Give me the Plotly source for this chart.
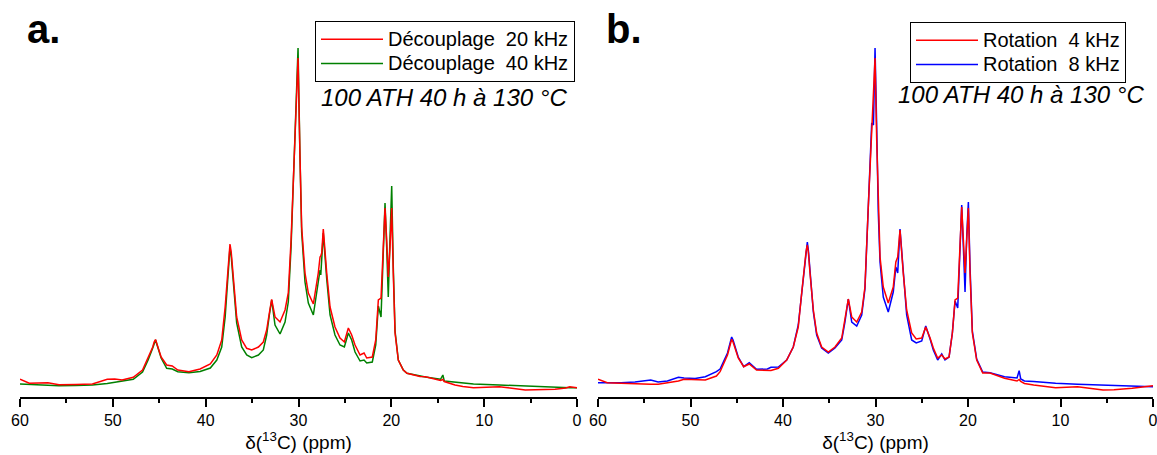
import plotly.graph_objects as go

# ---------------- data (intensity in arbitrary units, ppm on x) ----------------
PPM_A = [60.0, 59.0, 57.0, 55.8, 54.0, 52.2, 50.6, 49.8, 49.0, 47.8, 46.8, 46.2, 45.7, 45.55,
         45.4, 45.25, 44.8, 44.2, 43.6, 43.0, 41.8, 40.6, 39.5, 38.8, 38.27, 37.9, 37.63, 37.5,
         37.38, 37.25, 37.02,
         36.66, 36.12, 35.58, 35.04, 34.32, 33.79, 33.43, 33.14, 32.89, 32.53, 31.99, 31.45,
         31.1, 30.8, 30.55, 30.3, 30.05, 29.84, 29.66, 29.3, 28.94, 28.4, 27.87, 27.68, 27.6,
         27.5, 27.33, 26.96, 26.6, 26.07, 25.53, 25.06, 24.63, 24.27, 23.91, 23.37, 22.94,
         22.65, 22.05, 21.68, 21.4, 21.11, 20.86, 20.68, 20.5, 20.33, 20.14, 19.96, 19.79,
         19.6, 19.25, 18.71, 18.31, 17.99, 16.91, 16.33, 14.7, 14.45, 14.3, 13.14, 12.3,
         11.15, 8.36, 5.57, 4.37, 2.37, 1.2, 0.78, 0.0]
DEC_20 = [17.7, 13.7, 14.3, 12.3, 12.5, 13.0, 17.7, 18.0, 17.0, 19.7, 27.0, 38.7, 50.0, 55.0,
          57.5, 53.0, 40.0, 32.0, 31.0, 27.0, 25.3, 28.0, 33.0, 42.0, 57.0, 90.0, 124.0, 146.0,
          153.0, 145.0, 117.0,
          80.0, 57.0, 48.7, 47.0, 50.0, 55.0, 67.0, 84.0, 97.7, 80.0, 75.0, 87.0,
          104.0, 157.0, 224.0, 290.0, 339.0, 240.0, 170.0, 124.0, 104.0, 93.0, 124.0, 140.0, 141.0,
          144.0, 168.0, 124.0, 90.0, 70.0, 59.0, 55.0, 69.0, 62.0, 52.0, 42.0, 44.0,
          39.0, 40.0, 57.0, 97.0, 99.0, 157.0, 189.0, 157.0, 120.0, 150.0, 189.0, 124.0,
          64.0, 37.0, 27.0, 23.7, 23.0, 20.5, 20.3, 16.5, 17.5, 15.5, 12.0, 10.5,
          9.3, 10.3, 7.0, 7.2, 7.7, 9.0, 10.3, 9.3]
DEC_40 = [13.0, 12.5, 11.5, 11.3, 11.5, 12.0, 13.5, 14.5, 15.5, 17.7, 25.0, 37.0, 49.0, 54.5,
          57.0, 52.5, 39.0, 28.7, 28.0, 25.3, 24.3, 25.5, 29.0, 37.0, 50.0, 80.0, 118.0, 142.0,
          150.0, 141.0, 112.0,
          74.0, 50.0, 42.0, 39.3, 42.0, 47.0, 62.0, 82.0, 97.0, 72.0, 63.0, 75.0,
          95.0, 150.0, 222.0, 295.0, 349.0, 240.0, 165.0, 115.0, 94.0, 82.0, 115.0, 127.0, 122.0,
          140.0, 164.0, 118.0, 82.0, 62.0, 52.0, 50.0, 64.0, 57.0, 45.0, 36.0, 37.0,
          34.0, 35.0, 52.0, 91.0, 80.0, 150.0, 194.0, 150.0, 100.0, 160.0, 211.0, 130.0,
          66.0, 37.0, 27.0, 23.7, 23.0, 21.0, 20.0, 17.7, 22.0, 16.0, 15.0, 13.7,
          13.0, 12.0, 10.8, 10.3, 9.8, 9.5, 9.3, 9.3]

PPM_B = [60.0, 59.0, 57.5, 56.0, 54.3, 53.5, 52.5, 51.3, 50.7, 49.5, 48.4, 47.2, 46.8, 46.0,
         45.7, 45.55, 45.4, 44.84, 44.25, 43.65, 42.86, 41.69, 41.3, 40.5, 39.6, 38.89, 38.35,
         37.98, 37.7, 37.5, 37.37, 37.25, 37.08, 36.72, 36.36, 35.82, 35.1, 34.38, 33.65, 33.3,
         32.94, 32.57, 32.03,
         31.49, 31.14, 30.78, 30.41, 30.22, 30.05, 29.87, 29.7, 29.51, 29.16, 28.62, 28.08,
         27.8, 27.6, 27.35, 27.0, 26.63, 26.09, 25.6, 25.0, 24.57, 24.1, 23.75, 23.28, 22.84,
         22.49, 22.05, 21.69, 21.4, 21.11, 20.86, 20.68, 20.5, 20.32, 20.14, 19.96, 19.78,
         19.53, 19.06, 18.52, 18.41, 17.62, 16.54, 16.05, 14.7, 14.47, 14.3, 13.9, 12.9,
         10.53, 8.16, 5.4, 4.22, 2.25, 0.0]
ROT_4 = [17.7, 14.3, 13.7, 13.0, 12.7, 12.7, 14.0, 16.0, 17.7, 17.0, 17.0, 21.0, 25.3, 42.0,
         53.0, 57.7, 55.0, 39.0, 30.3, 33.0, 27.0, 26.3, 26.5, 28.7, 37.0, 50.0, 70.0,
         104.0, 130.0, 146.0, 152.0, 144.0, 124.0, 87.0, 64.0, 50.0, 45.0, 50.0, 59.0, 77.0,
         98.0, 80.0, 75.0,
         85.0, 110.0, 190.0, 274.0, 305.0, 339.0, 257.0, 198.0, 140.0, 110.0, 94.0, 110.0,
         135.0, 140.0, 167.0, 124.0, 87.0, 64.0, 58.0, 59.0, 70.0, 59.0, 49.0, 39.0, 42.0,
         38.0, 40.0, 64.0, 97.0, 99.0, 157.0, 190.0, 157.0, 124.0, 157.0, 189.0, 124.0,
         64.0, 37.0, 27.0, 24.0, 24.0, 20.0, 18.7, 16.0, 17.5, 15.5, 13.5, 12.0,
         9.3, 10.3, 7.0, 7.2, 8.7, 11.3]
ROT_8 = [14.3, 14.0, 14.3, 15.0, 17.0, 15.0, 16.0, 19.7, 19.0, 18.5, 20.3, 25.3, 28.0, 44.0,
         55.0, 60.0, 57.0, 40.0, 30.3, 34.3, 27.7, 28.0, 29.7, 30.0, 37.0, 50.0, 72.0,
         104.0, 132.0, 148.0, 155.0, 146.0, 124.0, 85.0, 62.0, 49.0, 44.0, 49.0, 57.0, 75.0,
         98.0, 75.0, 71.0,
         82.0, 108.0, 188.0, 274.0, 272.0, 349.0, 270.0, 185.0, 135.0, 100.0, 85.0, 105.0,
         130.0, 124.0, 168.0, 122.0, 82.0, 57.0, 54.0, 56.0, 71.0, 58.0, 47.0, 37.0, 43.0,
         37.0, 40.0, 64.0, 96.0, 89.0, 160.0, 192.0, 150.0, 105.0, 160.0, 195.0, 130.0,
         66.0, 38.0, 28.0, 25.0, 24.3, 22.0, 20.3, 19.0, 26.3, 18.0, 16.0, 15.5,
         13.7, 12.7, 12.0, 11.3, 11.0, 10.3]

NAMES_A = ["Découplage\u00a0 20 kHz", "Découplage\u00a0 40 kHz"]
NAMES_B = ["Rotation\u00a0 4 kHz", "Rotation\u00a0 8 kHz"]
SAMPLE = "100 ATH 40 h à 130 °C"
TICK_VALS = [60, 50, 40, 30, 20, 10, 0]
TICK_TEXT = ["60", "50", "40", "30", "20", "10", "0"]

# ---------------- figure ----------------
W, H = 1157, 455
PLOT_BOTTOM = 397  # px from top where the axis line sits
FONT = "Arial, Liberation Sans, sans-serif"


def legend_name(s):
    return '<span style="font-size:20px">' + s + "</span>"


fig = go.Figure()
fig.add_trace(go.Scatter(x=PPM_A, y=DEC_40, mode="lines", name=legend_name(NAMES_A[1]),
                         line=dict(color="#008000", width=1.5), xaxis="x", yaxis="y",
                         legend="legend", legendrank=2))
fig.add_trace(go.Scatter(x=PPM_A, y=DEC_20, mode="lines", name=legend_name(NAMES_A[0]),
                         line=dict(color="#FF0000", width=1.5), xaxis="x", yaxis="y",
                         legend="legend", legendrank=1))
fig.add_trace(go.Scatter(x=PPM_B, y=ROT_8, mode="lines", name=legend_name(NAMES_B[1]),
                         line=dict(color="#0000FF", width=1.5), xaxis="x2", yaxis="y2",
                         legend="legend2", legendrank=2))
fig.add_trace(go.Scatter(x=PPM_B, y=ROT_4, mode="lines", name=legend_name(NAMES_B[0]),
                         line=dict(color="#FF0000", width=1.5), xaxis="x2", yaxis="y2",
                         legend="legend2", legendrank=1))

xcommon = dict(range=[60, 0], autorange=False, showgrid=False, zeroline=False,
               automargin=False, ticklabeloverflow="allow",
               showline=True, linecolor="black", linewidth=1.5,
               ticks="outside", ticklen=8, tickwidth=1.5, tickcolor="black",
               tickvals=TICK_VALS, ticktext=TICK_TEXT,
               tickfont=dict(family=FONT, size=16, color="black"),
               minor=dict(dtick=5, tick0=0, ticks="outside", ticklen=4, tickwidth=1.5,
                          tickcolor="black", showgrid=False),
               title=dict(text="δ(<sup>13</sup>C) (ppm)",
                          font=dict(family=FONT, size=19, color="black"), standoff=1))
ycommon = dict(range=[0, PLOT_BOTTOM], autorange=False, visible=False, showgrid=False,
               zeroline=False, fixedrange=True, automargin=False)

legend_common = dict(bordercolor="black", borderwidth=1, bgcolor="white",
                     font=dict(family=FONT, size=16.4, color="black"), itemwidth=62,
                     tracegroupgap=0, xanchor="right", yanchor="top")

fig.update_layout(
    width=W, height=H, autosize=False,
    margin=dict(l=0, r=0, t=0, b=H - PLOT_BOTTOM, pad=0, autoexpand=False),
    paper_bgcolor="white", plot_bgcolor="white",
    font=dict(family=FONT, color="black"),
    xaxis=dict(domain=[20 / W, 577 / W], anchor="y", **xcommon),
    xaxis2=dict(domain=[598 / W, 1153 / W], anchor="y2", **xcommon),
    yaxis=dict(domain=[0, 1], anchor="x", **ycommon),
    yaxis2=dict(domain=[0, 1], anchor="x2", **ycommon),
    legend=dict(x=575 / W, y=1 - 21 / PLOT_BOTTOM, **legend_common),
    legend2=dict(x=1126 / W, y=1 - 22 / PLOT_BOTTOM, **legend_common),
    showlegend=True,
)

annos = [
    dict(text="<b>a.</b>", x=25 / W, y=1 - 29 / PLOT_BOTTOM, xanchor="left", yanchor="middle",
         font=dict(family=FONT, size=40, color="black")),
    dict(text="<b>b.</b>", x=604 / W, y=1 - 29 / PLOT_BOTTOM, xanchor="left", yanchor="middle",
         font=dict(family=FONT, size=40, color="black")),
    dict(text="<i>" + SAMPLE + "</i>", x=569 / W, y=1 - 97 / PLOT_BOTTOM, xanchor="right",
         yanchor="middle", font=dict(family=FONT, size=24, color="black")),
    dict(text="<i>" + SAMPLE + "</i>", x=1146 / W, y=1 - 95 / PLOT_BOTTOM, xanchor="right",
         yanchor="middle", font=dict(family=FONT, size=24, color="black")),
]
for a in annos:
    fig.add_annotation(xref="paper", yref="paper", showarrow=False, **a)

fig.write_html("out.html", config={"displayModeBar": False},
               post_script="document.body.style.margin='0';")
